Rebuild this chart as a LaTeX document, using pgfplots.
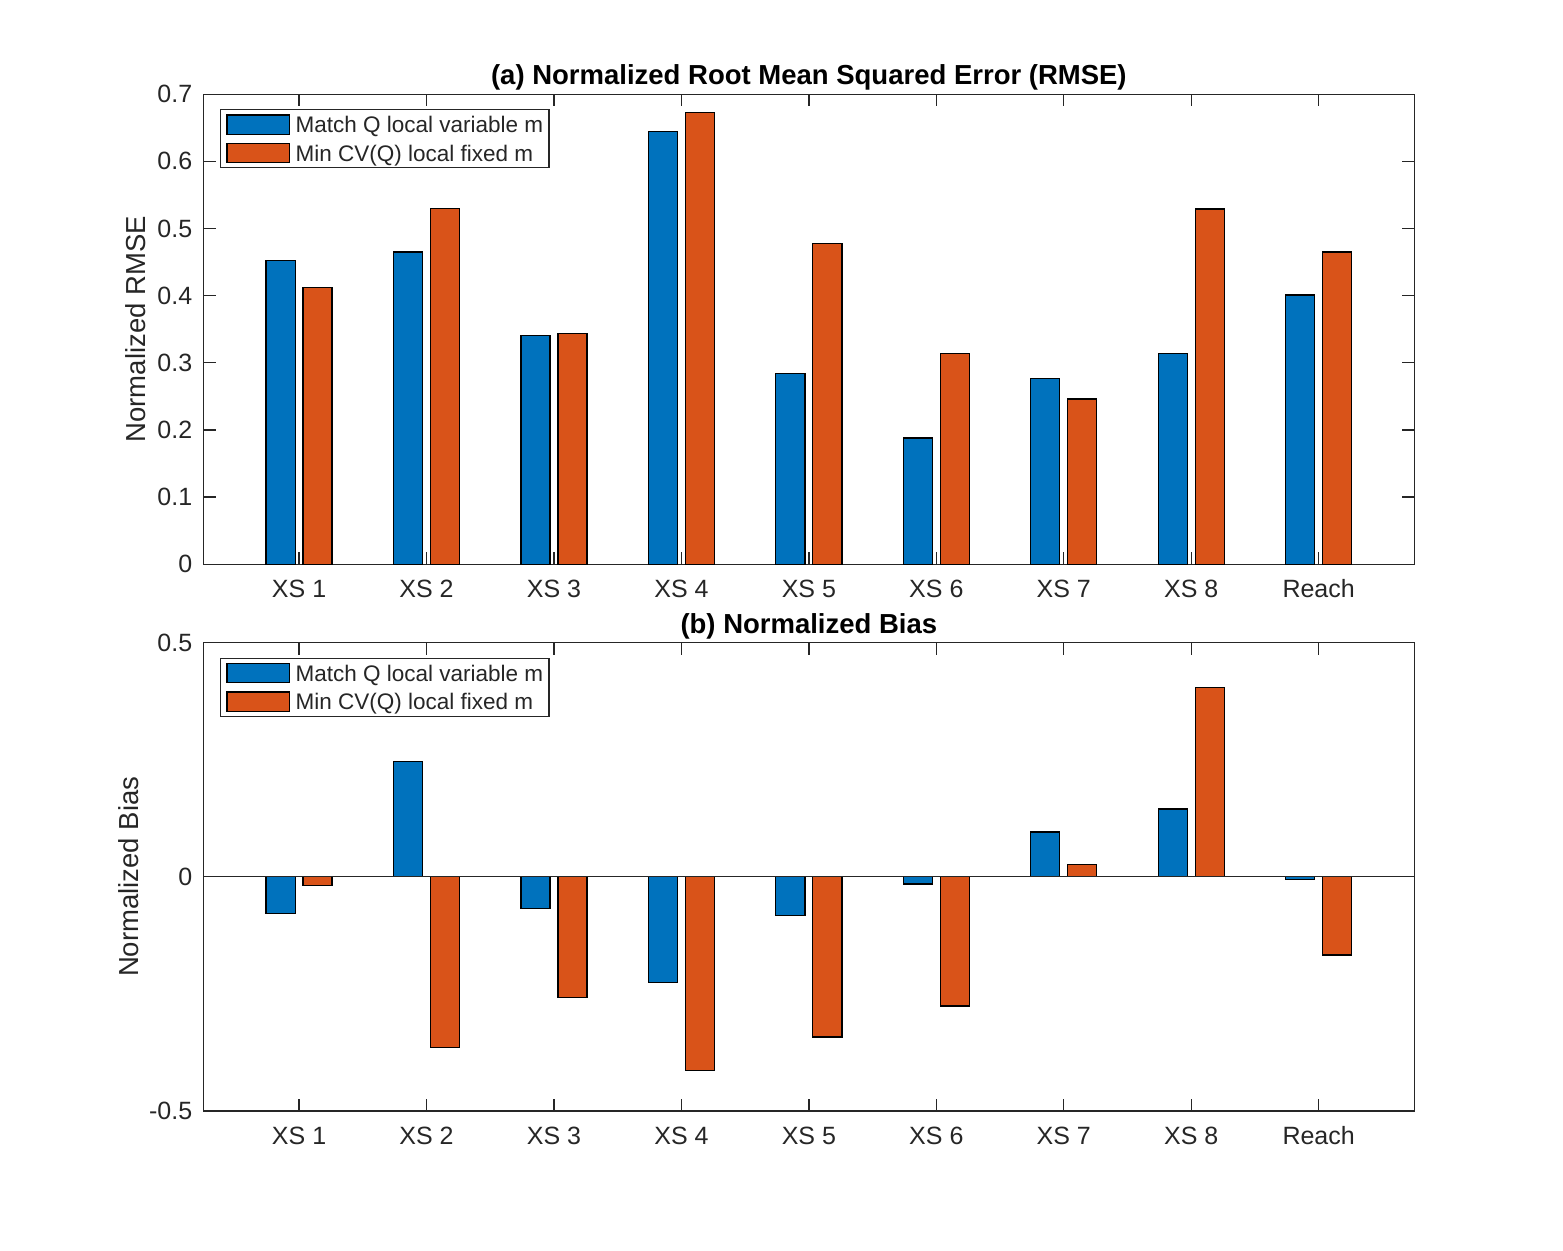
\documentclass[border=0pt]{standalone}
\usepackage{fontspec}
\setmainfont{Liberation Sans}
\usepackage{pgfplots}
\pgfplotsset{compat=1.18}
\definecolor{mblue}{RGB}{0,114,189}
\definecolor{morange}{RGB}{217,83,25}
\definecolor{axgray}{RGB}{38,38,38}

\pgfplotsset{
  every axis title shift=0pt,
  mystyle/.style={
    scale only axis, width=484.3pt, xmin=0.25, xmax=9.75,
    xtick={1,2,3,4,5,6,7,8,9},
    xticklabels={XS 1,XS 2,XS 3,XS 4,XS 5,XS 6,XS 7,XS 8,Reach},
    tick align=inside, major tick length=4.8pt,
    axis line style={axgray, line width=0.5pt},
    tick style={axgray, line width=0.5pt},
    tick label style={font=\fontsize{10}{12}\selectfont, text=axgray},
    xticklabel style={anchor=base, yshift=-13.3pt, inner sep=0pt},
    yticklabel style={anchor=east, inner sep=0pt, xshift=-4.3pt},
    label style={font=\fontsize{11}{13}\selectfont, text=axgray},
    title style={font=\bfseries\fontsize{11}{13}\selectfont, at={(0.5,1)}, anchor=south,
      inner sep=0pt, text depth=0pt, yshift=3.6pt},
    legend style={at={(0,1)}, anchor=north west, xshift=6.6pt, yshift=-6pt,
      draw=axgray, line width=0.5pt, inner xsep=2.3pt, inner ysep=1.8pt, row sep=3.2pt, column sep=2.3pt,
      font=\fontsize{9}{11}\selectfont, text=axgray,
      nodes={inner sep=0pt, text height=7.05pt, text depth=0.65pt}},
    legend cell align=left,
    legend image code/.code={\draw[#1, line width=0.5pt] (0pt,-3.85pt) rectangle (24.9pt,3.85pt);},
    /pgf/number format/assume math mode=true,
  },
  barA/.style={ybar, bar width=0.228, bar shift=-0.145, fill=mblue, draw=black, line width=0.5pt},
  barB/.style={ybar, bar width=0.228, bar shift=0.145, fill=morange, draw=black, line width=0.5pt},
}

\begin{document}
\begin{tikzpicture}
\useasboundingbox (0,0) rectangle (625.2pt,500pt);

\begin{axis}[mystyle, at={(81.4pt,274.3pt)}, anchor=south west, height=188pt,
  ymin=0, ymax=0.7,
  ytick={0,0.1,0.2,0.3,0.4,0.5,0.6,0.7},
  yticklabels={0,0.1,0.2,0.3,0.4,0.5,0.6,0.7},
  ylabel={Normalized RMSE},
  ylabel style={at={(axis description cs:-0.0559,0.5)}, anchor=center},
  title={(a) Normalized Root Mean Squared Error (RMSE)}]
\addplot[barA] coordinates {(1,0.452) (2,0.465) (3,0.341) (4,0.644) (5,0.284) (6,0.188) (7,0.277) (8,0.314) (9,0.401)};
\addplot[barB] coordinates {(1,0.412) (2,0.530) (3,0.344) (4,0.673) (5,0.478) (6,0.314) (7,0.246) (8,0.529) (9,0.465)};
\legend{Match Q local variable m, Min CV(Q) local fixed m}
\end{axis}

\begin{axis}[mystyle, at={(81.4pt,55.6pt)}, anchor=south west, height=187.3pt,
  ymin=-0.5, ymax=0.5,
  ytick={-0.5,0,0.5},
  yticklabels={-0.5,0,0.5},
  ylabel={Normalized Bias},
  ylabel style={at={(axis description cs:-0.0621,0.5)}, anchor=center},
  title={(b) Normalized Bias}]
\addplot[barA] coordinates {(1,-0.078) (2,0.246) (3,-0.068) (4,-0.226) (5,-0.083) (6,-0.015) (7,0.096) (8,0.145) (9,-0.006)};
\addplot[barB] coordinates {(1,-0.019) (2,-0.365) (3,-0.258) (4,-0.414) (5,-0.342) (6,-0.276) (7,0.026) (8,0.404) (9,-0.167)};
\addplot[axgray, line width=0.5pt, forget plot] coordinates {(0.25,0) (9.75,0)};
\legend{Match Q local variable m, Min CV(Q) local fixed m}
\end{axis}
\end{tikzpicture}
\end{document}
